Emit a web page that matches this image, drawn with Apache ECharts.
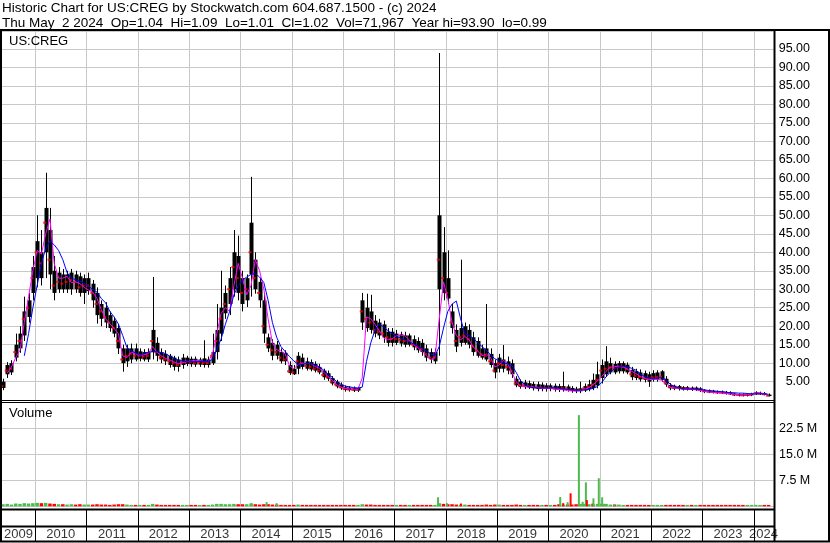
<!DOCTYPE html>
<html><head><meta charset="utf-8">
<script src="https://cdn.jsdelivr.net/npm/echarts@6/dist/echarts.min.js"></script>
<style>html,body{margin:0;padding:0;background:#fff}#c{width:830px;height:543px}</style>
</head><body><div id="c"></div>
<script>
// ---- data (monthly, first bar = May 2009) ----
const startYear = 2009, startMonth = 5;
const bandLow = [
3.3,7,7.5,11.5,14,17.5,22.5,29,
33,33,40,34,29,30,30,30,30,30,29,29,
29.5,27,23,22,21,19.5,18,14,10,10.5,11,11,
11.2,11,11,13,12,11,10.5,9.5,9,9,9.5,9.8,
9.7,9.6,9.6,9.5,9.5,10,13,18,23.5,26,30,29,
26,27,34,30,27,18,14,12,12,10.5,10.5,7.3,
7,8.5,9,8.5,8.3,8,7.5,6.2,5.8,4.5,3.7,3.2,
2.8,2.7,2.6,2.6,21,19.5,19,18,17.5,17,15.5,15.5,
15.5,15.3,15,15,14.3,13.5,13,11.5,11,10.5,30,29,
27.5,19.5,14.5,15.5,15.5,15,13,12,11.5,11,9.5,7.5,
8.5,8.5,8,7,4,3.6,3.5,3.4,3.2,3,3,3,
3,2.9,2.8,2.9,2.8,2.5,2.4,2.4,2.6,3,3.3,4,
6,7,7.5,7.5,7.8,7.8,7.5,6.2,6,5.6,5.5,5,
5.5,5.5,5.5,4.2,3.2,3.1,3,2.9,2.9,2.8,2.8,2.6,
2.2,2.1,2,1.9,1.9,1.8,1.6,1.3,1.2,1.2,1.2,1.3,
1.6,1.6,1.5,1.1];
const bandHigh = [
5,9.5,10,15,18,24,27,36,
43,40,52,46,35,34.5,34,34,34.5,34,33.5,33,
33,31.5,29,26,25,23,21.5,19.5,14,14,14,14,
13.2,13,13,19,15.5,13,12.5,12,11.5,11,11.5,11.5,
11.2,11.2,11,11.3,11,13,19,25,29,33,40,39,
33,33,48,38,32,27,17,15.5,15,13,12.8,9.5,
8.5,12,11.5,10.5,10.3,9.8,9,8,7.3,6,5,4.2,
3.5,3.4,3.3,3.3,27,25,24,21.5,21,20.5,18.5,18.5,
18,17.8,17.5,17.5,16.5,16,15.5,14,13,13,50,40,
33,24,19,19.5,20,19,17,16,14,14,12.5,10,
11.5,11,10.5,10,5.8,5,4.8,4.6,4.4,4.3,4.2,4,
4,3.9,3.8,3.8,3.7,3.3,3.1,3.2,3.8,4.3,5.5,7,
9.5,10.5,10,9.8,10,10,9.6,8.2,7.8,7.5,7.3,7,
7.3,7.5,7.8,5.8,4.1,3.9,3.8,3.5,3.5,3.4,3.4,3.2,
2.7,2.6,2.5,2.3,2.3,2.2,2.1,1.8,1.6,1.6,1.6,1.7,
2.1,2,1.9,1.5];
const lows = [
2.7,6,6.8,10.5,12.8,16,21,27,
30.5,31,33,30,27,29,29,29,28.5,29,28,26,
28.5,25,20.7,20,19.5,18.5,17,12.5,7.7,9,10,10.5,
10.5,10.5,10.3,11,10.5,10,9.5,8.8,8,7.7,8.5,9.2,
9,9,9,8.8,8.8,9.5,11,16,22,23,28,27,
24,25.2,28,28.8,25,15.5,13,10.8,11,9.9,9.5,6.8,
6.8,7,8.3,8,7.8,7.5,7,5.5,5.2,4,3.2,2.8,
2.3,2.3,2.2,2.2,19,18.5,18,17,16.5,15.5,14.5,14.5,
14.9,14.5,14.3,14.5,13.5,12.8,12,10.5,10,9.8,12,27,
26,18,13,14.5,15,14,12,11.5,11,10.5,8.8,5.9,
7.5,7.5,7,6,3.5,3.1,3,3,2.6,2.4,2.4,2.3,
2.4,2.3,2.2,2.3,2.3,2,1.9,1.9,2.2,2.4,2.7,3.2,
4.5,6.3,7,7,7.2,7.2,7,5.4,5.4,5,4.8,3.6,
5,5,5,3.6,2.7,2.7,2.6,2.6,2.6,2.5,2.5,2.2,
1.9,1.9,1.8,1.7,1.7,1.5,1.4,1.1,1,1,1,1.1,
1.4,1.4,1.3,0.99];
const highs = [
5.8,10.3,10.8,18,20,28,29,39,
50,46,61.5,52,39,36,35.5,35,35.5,35,34.5,34,
34.5,32.5,30.5,27,26.5,24,22.5,20.5,15,15,15.3,15.3,
14,13.8,14,33.3,17,14,13.5,12.5,12,11.8,12.5,12,
11.8,11.8,11.5,16.2,11.8,18,26,35,31,36,46,44.5,
35,34,60.4,40,33,29,18,16.5,16,14,13.5,10.5,
9.5,13,12.6,11.5,11,10.5,9.8,8.5,8,6.5,5.5,4.8,
4,3.8,3.7,3.6,29,28.8,28.5,23,22,21.5,19.5,19.5,
19,18.5,18.5,18,17.5,17,16.5,15,14,14,93.9,46.8,
40.5,26,20.5,38,21,20.5,18.5,17,15,26,14,11,
12.5,14.9,11.8,11,6.5,5.6,5.5,5.3,5,5,4.8,4.6,
4.5,4.5,4.4,7.7,4.2,3.8,3.6,5,4.5,5.5,7.2,10.4,
11,14.6,11.5,10.5,10.6,10.5,10.2,9,8.5,8.3,8,7.7,
8.1,8.1,8.1,6.5,4.6,4.2,4.1,3.8,3.8,3.7,3.7,3.5,
3,2.9,2.8,2.6,2.6,2.5,2.4,2,1.8,1.8,1.9,2,
2.4,2.3,2.2,1.8];
const closes = [
3.8,8,8.5,13,16,22,25,33,
40,37,48,38,31,32,31.5,32,32.5,32,30.5,31,
31,29,26,24,22.5,21,19.5,16,11,12,12.5,12,
12,11.8,12,16,13,11.5,11,10.5,10,9.5,10.2,10.5,
10.3,10,10.2,10,10,12,16,22,26,30,36,33,
29,30,40,33,29,20,15,13.5,13,11.5,11,7.8,
7.5,10.5,10,9.3,9,8.5,8,6.8,6.3,5,4.2,3.6,
3,2.9,2.8,2.8,24,22,21,19,18.5,18,17,16.5,
16.5,16.3,16,16,15,14.5,13.8,12.5,11.5,11.5,38,33,
29,21,16,17,17.5,16.5,14.5,13.5,12.5,12,10.5,8,
10,9.5,9,8,4.5,4,4,3.8,3.6,3.4,3.4,3.3,
3.3,3.2,3,3.2,3.1,2.8,2.7,2.7,3.2,3.6,4.2,5.5,
8,8.5,8.8,8.6,9,9,8.5,7,6.6,6.3,6,5.8,
6.2,6.3,6.4,4.8,3.6,3.4,3.3,3.1,3.1,3,3,2.8,
2.4,2.3,2.2,2.1,2,1.9,1.8,1.5,1.4,1.3,1.4,1.5,
1.8,1.8,1.6,1.2];
const maFast = [
null,7.3,9.0,11.5,13.5,21,28,35,
40.5,39.5,45,49,37,33,33,33.5,31.8,32,31.5,30.5,
29.8,29.2,27.5,24.5,22,20.7,19.4,18,12,11.5,13,12.5,
12.2,12.3,12.6,14.5,13,12,11.3,10.9,10.3,9.9,10.1,10.4,
10.6,10.8,10.7,10.4,10.4,12.5,18,23.4,25,24,31,37,
33,28.5,31,38,35,30,22,15.5,13.6,13.3,12.5,9.3,
8.5,9.6,10,9.9,9.9,9.1,8.6,7.6,6.4,5.4,4.2,3.5,
3.2,3.0,3.0,2.9,6,22.5,22,20.5,18.8,16.8,16.3,16.6,
17.4,17.6,17.4,16.3,15,14.2,13.2,12,11,11.5,22,32,
27.5,21,17.5,16.3,17.2,16.3,14.3,13.3,12,12.5,11.5,9,
9.5,10.8,9.8,7.5,5,3.8,3.7,3.6,3.5,3.4,3.2,3.2,
3.2,3.0,2.9,2.8,2.6,2.5,2.5,2.6,2.9,3.4,4.2,5.2,
6.4,7.8,8.9,9.1,9.2,9,8.3,7.8,7.2,6.4,5.9,5.5,
5.7,5.6,5.4,4.6,3.5,3.3,3.2,3.1,3.0,2.9,2.8,2.6,
2.4,2.2,2.1,2.0,2.0,1.9,1.7,1.6,1.4,1.4,1.5,1.6,
1.9,1.9,1.7,1.3];
const maSlow = [
null,null,null,null,null,12,18,25,
31,37,41,43,42,40.5,38,34.5,33,32.6,32.2,31.6,
30.8,30,29.2,27.5,26.3,24,22.5,20.6,17.5,14.2,13.3,12.8,
12.2,12.6,13,13.1,13.1,12.9,12.6,11.9,11.3,10.8,10.6,10.4,
10.4,10.4,10.5,10.4,10.5,11,13.8,16.5,20.5,24,28.5,31,
32.5,33.3,34,34.2,33.3,31.8,27,21,17,14.5,13.1,11.8,
10.6,9.7,9.7,9.9,9.9,9.5,9,8.1,7,6.2,5,4.3,
3.8,3.6,3.4,3.3,3.5,10.5,15.5,19,20.5,19.8,18.8,18,
17.2,16.8,16.3,15.8,15.2,14.6,14,13.3,12.5,12,14.5,19.5,
24,26,26.8,22,18,17.5,16.7,15.5,14.5,13.5,12.3,11.2,
10.6,10.1,9.8,9.3,7.5,5.3,4.2,3.6,3.4,3.3,3.3,3.3,
3.3,3.4,3.2,3.0,2.9,2.8,2.7,2.7,2.8,2.9,3.2,3.7,
4.8,6.3,7.6,8.5,9,9.2,9,8.6,8.1,7.1,6.4,6,
5.9,6,6.1,5.5,4.3,3.7,3.3,3.1,3.0,3.0,3.0,2.9,
2.8,2.6,2.5,2.4,2.3,2.2,2.0,2.0,1.9,1.9,1.8,1.7,
1.7,1.7,1.7,1.6];
// volume in millions (monthly baseline)
const volMonthly = [
0.6,0.7,0.5,0.8,0.7,0.9,0.8,0.9,
1.0,0.9,1.0,0.8,0.7,0.6,0.6,0.5,0.6,0.5,0.6,0.5,
0.5,0.5,0.6,0.5,0.5,0.4,0.5,0.6,0.6,0.5,0.4,0.4,
0.4,0.4,0.4,0.7,0.5,0.4,0.4,0.4,0.4,0.4,0.4,0.4,
0.4,0.4,0.4,0.4,0.4,0.5,0.7,0.7,0.6,0.6,0.7,0.6,
0.6,0.6,0.8,0.6,0.5,0.6,0.6,0.5,0.5,0.4,0.4,0.4,
0.4,0.5,0.4,0.4,0.4,0.4,0.4,0.4,0.4,0.4,0.4,0.4,
0.4,0.4,0.4,0.4,0.6,0.5,0.5,0.4,0.4,0.4,0.4,0.4,
0.4,0.4,0.4,0.4,0.4,0.4,0.4,0.4,0.4,0.4,0.9,0.7,
0.6,0.6,0.5,0.5,0.5,0.4,0.4,0.4,0.4,0.5,0.4,0.5,
0.5,0.4,0.4,0.4,0.5,0.4,0.4,0.4,0.4,0.4,0.4,0.4,
0.4,0.4,0.6,0.5,0.5,0.5,0.6,0.7,0.7,0.6,0.6,0.7,
0.7,0.7,0.5,0.5,0.5,0.4,0.4,0.4,0.4,0.4,0.4,0.4,
0.4,0.4,0.4,0.4,0.4,0.4,0.4,0.4,0.4,0.4,0.4,0.4,
0.4,0.4,0.4,0.4,0.4,0.4,0.4,0.4,0.4,0.4,0.4,0.4,
0.4,0.4,0.4,0.4];
// notable single-day volumes (millions)
const spikeDates = ['2014-03-22','2014-07-07','2014-09-16','2017-11-08','2018-01-10','2018-04-20','2020-03-26','2020-04-16','2020-05-18','2020-06-08','2020-08-06','2020-09-02','2020-09-25','2020-10-02','2020-11-11','2020-11-18','2020-12-26','2021-01-19','2021-02-02','2021-04-15'];
const spikeVols  = [0.9,1.2,0.9,2.6,0.9,0.8,2.7,0.9,1.2,3.75,26.3,1.3,6.9,1.8,0.8,2.3,8.1,2.6,0.7,0.6];
const spikeUp    = [1,1,1,1,1,0,1,0,1,0,1,1,1,0,0,1,1,1,1,1];
const yearLabels = ['2009','2010','2011','2012','2013','2014','2015','2016','2017','2018','2019','2020','2021','2022','2023','2024'];
const headerLine1 = 'Historic Chart for US:CREG by Stockwatch.com 604.687.1500 - (c) 2024';
const headerLine2 = 'Thu May  2 2024  Op=1.04  Hi=1.09  Lo=1.01  Cl=1.02  Vol=71,967  Year hi=93.90  lo=0.99';

// ---- build ----
const FONT = '"Liberation Sans", Arial, Helvetica, sans-serif';
const PX_PER_YEAR = 51.33;
const GRID_R = 56.5;
const X_MIN = 2010 - 35 / PX_PER_YEAR;                 // left edge of plot (x = 0)
const X_MAX = X_MIN + (830 - GRID_R) / PX_PER_YEAR;    // right edge of plot
const GREEN = '#4cbb4c', RED = '#ff0000', GRIDC = '#c8c8c8';
function monthPos(i){ const m = startMonth - 1 + i; return startYear + Math.floor(m/12) + ((m%12)+0.5)/12; }
function datePos(s){ const p = s.split('-').map(Number); const t0 = Date.UTC(p[0],0,1), t1 = Date.UTC(p[0]+1,0,1); return p[0] + (Date.UTC(p[0],p[1]-1,p[2]) - t0)/(t1 - t0); }

const priceData = bandLow.map((v,i)=>[monthPos(i), v, bandHigh[i], lows[i], highs[i]]);
const closeData = closes.map((v,i)=>[monthPos(i), v]);
const fastData = maFast.map((v,i)=>[monthPos(i), v]);
const slowData = maSlow.map((v,i)=>[monthPos(i), v]);
const volData = volMonthly.map((v,i)=>[monthPos(i), v*1e6, (i===0 || closes[i] >= closes[i-1]) ? 1 : 0]);
const spikeData = spikeDates.map((d,i)=>[datePos(d), spikeVols[i]*1e6, spikeUp[i]]);
const yearBounds = yearLabels.map(Number).filter(y => y > X_MIN).map(y => [y, 0]);
const visStart = X_MIN + 2 / PX_PER_YEAR;
const yearData = yearLabels.map(s=>{ const y = +s; const a = Math.max(y, visStart), b = Math.min(y+1, X_MAX); return [(a+b)/2, 0.23, s]; });

function xAx(g){
  return {type:'value', gridIndex:g, min:X_MIN, max:X_MAX,
    axisLine:{show:false}, axisTick:{show:false}, axisLabel:{show:false}, splitLine:{show:false}};
}
function vlineRender(color){
  return function(params, api){
    const p = api.coord([api.value(0), api.value(1)]);
    const cs = params.coordSys;
    const px = Math.round(p[0]) + 0.5;
    return {type:'line', shape:{x1:px, y1:cs.y, x2:px, y2:cs.y + cs.height}, style:{stroke:color, lineWidth:1}};
  };
}
function barRender(width){
  return function(params, api){
    const x = api.value(0), v = api.value(1), up = api.value(2);
    const p0 = api.coord([x, 0]), p1 = api.coord([x, v]);
    return {type:'rect', shape:{x:p0[0]-width/2, y:p1[1], width:width, height:Math.max(1, p0[1]-p1[1])},
      style:{fill: up ? GREEN : RED}};
  };
}
const line = (x1,y1,x2,y2,w)=>({type:'line', z:100, shape:{x1,y1,x2,y2}, style:{stroke:'#000', lineWidth:w}});
const txt = (x,y,t,fs)=>({type:'text', z:100, x:x, y:y, style:{text:t, font:(fs||13) + 'px ' + FONT, fill:'#000', verticalAlign:'middle', textVerticalAlign:'middle'}});

const chart = echarts.init(document.getElementById('c'), null, {renderer:'canvas', width:830, height:543});
chart.setOption({
  animation:false,
  backgroundColor:'#fff',
  grid:[
    {left:0, right:GRID_R, top:31, height:369.15},
    {left:0, right:GRID_R, top:402.3, height:104},
    {left:0, right:GRID_R, top:509.5, height:31.8}
  ],
  xAxis:[xAx(0), xAx(1), xAx(2)],
  yAxis:[
    {type:'value', gridIndex:0, position:'right', min:0, max:99.85, interval:5,
      axisLine:{show:false}, axisTick:{show:false},
      splitLine:{lineStyle:{color:GRIDC, width:1}},
      axisLabel:{color:'#000', fontSize:12.5, fontFamily:FONT, align:'right', margin:36.5,
        formatter:v=>(v>0 && v<99 && Math.abs(v/5-Math.round(v/5))<1e-6) ? v.toFixed(2) : ''}},
    {type:'value', gridIndex:1, position:'right', min:0, max:30e6, interval:7.5e6,
      axisLine:{show:false}, axisTick:{show:false},
      splitLine:{lineStyle:{color:GRIDC, width:1}},
      axisLabel:{color:'#000', fontSize:12.5, fontFamily:FONT, align:'left', margin:5.5,
        formatter:v=>(v>0 && v<29e6) ? (v/1e6).toFixed(1) + ' M' : ''}},
    {type:'value', gridIndex:2, min:0, max:1, show:false}
  ],
  series:[
    {type:'custom', xAxisIndex:0, yAxisIndex:0, z:1, data:yearBounds, encode:{x:0, y:1}, renderItem:vlineRender(GRIDC), silent:true},
    {type:'custom', xAxisIndex:1, yAxisIndex:1, z:1, data:yearBounds, encode:{x:0, y:1}, renderItem:vlineRender(GRIDC), silent:true},
    {type:'custom', xAxisIndex:2, yAxisIndex:2, z:1, data:yearBounds, encode:{x:0, y:1}, renderItem:vlineRender('#000'), silent:true},
    {type:'custom', xAxisIndex:0, yAxisIndex:0, z:2, data:priceData, encode:{x:0, y:[1,2,3,4]},
      renderItem:function(params, api){
        const x = api.value(0);
        const pL = api.coord([x, api.value(3)]), pH = api.coord([x, api.value(4)]);
        const bL = api.coord([x, api.value(1)]), bH = api.coord([x, api.value(2)]);
        const px = Math.round(pL[0]) + 0.5;
        return {type:'group', children:[
          {type:'line', shape:{x1:px, y1:pL[1], x2:px, y2:pH[1]}, style:{stroke:'#000', lineWidth:1}},
          {type:'rect', shape:{x:px-2, y:bH[1], width:4, height:Math.max(1, bL[1]-bH[1])}, style:{fill:'#000'}}
        ]};
      }},
    {type:'scatter', xAxisIndex:0, yAxisIndex:0, z:3, data:closeData, symbol:'rect', symbolSize:[3,2],
      symbolOffset:[-1,0], itemStyle:{color:RED}, silent:true},
    {type:'line', xAxisIndex:0, yAxisIndex:0, z:4, data:fastData, showSymbol:false, symbol:'none',
      lineStyle:{color:'#ff00ff', width:1}, connectNulls:false},
    {type:'line', xAxisIndex:0, yAxisIndex:0, z:5, data:slowData, showSymbol:false, symbol:'none',
      lineStyle:{color:'#0000ff', width:1}, connectNulls:false},
    {type:'custom', xAxisIndex:1, yAxisIndex:1, z:2, data:volData, encode:{x:0, y:1}, renderItem:barRender(3.5)},
    {type:'custom', xAxisIndex:1, yAxisIndex:1, z:3, data:spikeData, encode:{x:0, y:1}, renderItem:barRender(2)},
    {type:'scatter', xAxisIndex:2, yAxisIndex:2, data:yearData, symbolSize:1, itemStyle:{color:'rgba(0,0,0,0)'},
      label:{show:true, position:'inside', formatter:p=>p.data[2], color:'#000', fontSize:13, fontFamily:FONT}}
  ],
  graphic:[
    txt(2, 8.5, headerLine1, 13.5),
    txt(2, 23, headerLine2, 13.5),
    txt(9, 41.5, 'US:CREG'),
    txt(9, 413, 'Volume'),
    line(0,30,830,30,2),
    line(1,30,1,542,2),
    line(774.5,30,774.5,542,2),
    line(829,30,829,542,2),
    line(0,541.5,830,541.5,2),
    line(0,400.5,774,400.5,1),
    line(0,402.5,774,402.5,1),
    line(0,509.5,774,509.5,2),
    line(0,526.5,774,526.5,2)
  ]
});
</script></body></html>
